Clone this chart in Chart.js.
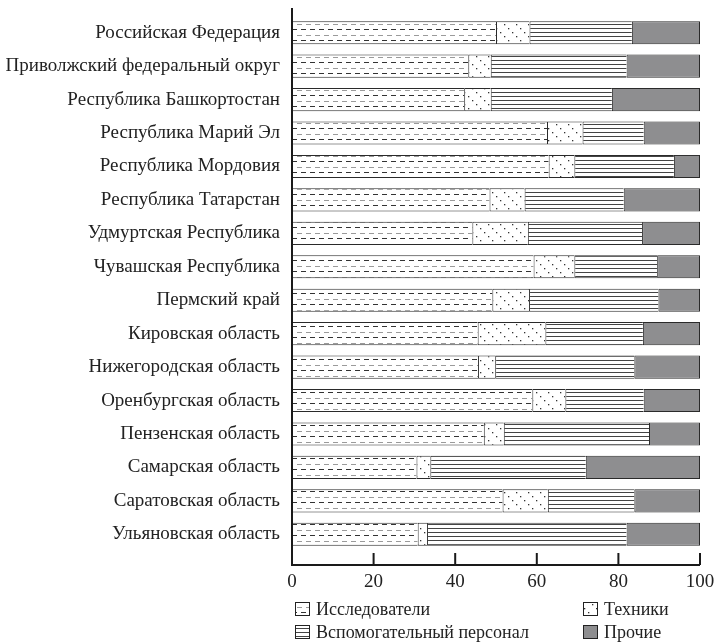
<!DOCTYPE html>
<html lang="ru">
<head>
<meta charset="utf-8">
<title>Структура персонала</title>
<script src="https://cdn.jsdelivr.net/npm/chart.js@4.4.1/dist/chart.umd.min.js"></script>
<style>
html,body{margin:0;padding:0;background:#fff;}
</style>
</head>
<body>
<canvas id="staffChart" width="714" height="642"></canvas>
<script>
const regions = [
"Российская Федерация",
"Приволжский федеральный округ",
"Республика Башкортостан",
"Республика Марий Эл",
"Республика Мордовия",
"Республика Татарстан",
"Удмуртская Республика",
"Чувашская Республика",
"Пермский край",
"Кировская область",
"Нижегородская область",
"Оренбургская область",
"Пензенская область",
"Самарская область",
"Саратовская область",
"Ульяновская область"
];

const researchers = [50.0,43.2,42.2,62.5,62.9,48.4,44.2,59.2,49.1,45.5,45.6,58.9,47.0,30.5,51.6,30.8];
const technicians = [8.2,5.5,6.5,8.7,6.3,8.6,13.6,10.0,9.0,16.6,4.2,8.1,4.9,3.4,11.1,2.3];
const support = [25.1,33.3,29.7,15.0,24.4,24.3,28.0,20.3,31.7,23.9,34.1,19.2,35.6,38.1,21.2,48.9];
const others = [16.7,18.0,21.6,13.8,6.4,18.7,14.2,10.5,10.2,14.0,16.1,13.8,12.5,28.0,16.1,18.0];

const xTicks = [0,20,40,60,80,100];

const FONT = "'Liberation Serif', 'Times New Roman', serif";
const INK = "#222";

// fill patterns
function tile(w, h, draw) {
const cv = document.createElement("canvas");
cv.width = w; cv.height = h;
const g = cv.getContext("2d");
g.fillStyle = "#fff";
g.fillRect(0, 0, w, h);
draw(g);
return cv.getContext("2d").createPattern(cv, "repeat");
}

const dashFill = tile(9, 11, g => {
g.fillStyle = "#9a9a9a";
g.fillRect(0, 2, 5, 1);
g.fillStyle = "#333";
g.fillRect(4, 7, 5, 1);
});

const dotFill = tile(12, 12, g => {
g.fillStyle = "#333";
g.fillRect(0, 0, 1.3, 1.3);
g.fillRect(4, 4, 1.3, 1.3);
g.fillRect(8, 8, 1.3, 1.3);
});

const lineFill = tile(4, 4, g => {
g.fillStyle = "#444";
g.fillRect(0, 0, 4, 1);
});

const edge = {top:1, bottom:1, left:1, right:0};

const axisLines = {
id: "axisLines",
afterDraw(chart) {
const c = chart.ctx, a = chart.chartArea, x = chart.scales.x;
const base = a.bottom + 14;
c.save();
c.strokeStyle = "#1a1a1a";
c.lineWidth = 2;
c.beginPath();
c.moveTo(a.left, a.top - 8);
c.lineTo(a.left, base);
c.lineTo(a.right, base);
x.ticks.forEach(t => {
const px = x.getPixelForValue(t.value);
c.moveTo(px, base);
c.lineTo(px, base - 12);
});
c.stroke();
c.restore();
}
};

const legendGrid = {
id: "legendGrid",
afterDraw(chart) {
const c = chart.ctx, a = chart.chartArea;
const cols = [a.left + 3, a.left + 291];
const rows = [a.bottom + 58, a.bottom + 81];
c.save();
c.font = "18px " + FONT;
c.textBaseline = "middle";
chart.data.datasets.forEach((ds, i) => {
const x = cols[i % 2], y = rows[Math.floor(i / 2)];
c.fillStyle = ds.backgroundColor;
c.fillRect(x, y - 7, 14, 13);
c.strokeStyle = INK;
c.lineWidth = 1;
c.strokeRect(x + 0.5, y - 6.5, 14, 13);
c.fillStyle = INK;
c.fillText(ds.label, x + 21, y + 1);
});
c.restore();
}
};

new Chart(document.getElementById("staffChart"), {
type: "bar",
data: {
labels: regions,
datasets: [
{label: "Исследователи", data: researchers, backgroundColor: dashFill, borderWidth: edge},
{label: "Техники", data: technicians, backgroundColor: dotFill, borderWidth: edge},
{label: "Вспомогательный персонал", data: support, backgroundColor: lineFill, borderWidth: edge},
{label: "Прочие", data: others, backgroundColor: "#8e8e90", borderWidth: 1}
]
},
options: {
indexAxis: "y",
responsive: false,
animation: false,
datasets: {
bar: {
borderColor: "#2a2a2a",
borderSkipped: false,
barPercentage: 0.69,
categoryPercentage: 1
}
},
layout: {
padding: {left: 0, right: 14, top: 16, bottom: 0}
},
plugins: {
legend: {display: false},
tooltip: {enabled: false}
},
scales: {
x: {
stacked: true,
min: 0,
max: 100,
afterBuildTicks: s => { s.ticks = xTicks.map(v => ({value: v})); },
afterFit: s => { s.height = 91; s.paddingLeft = 0; s.paddingRight = 0; },
grid: {display: false, drawTicks: false},
border: {display: false},
ticks: {
padding: 20,
color: INK,
font: {family: FONT, size: 19}
}
},
y: {
stacked: true,
afterFit: s => { s.width = 292; s.paddingTop = 0; s.paddingBottom = 0; },
grid: {display: false, drawTicks: false},
border: {display: false},
ticks: {
padding: 12,
color: INK,
font: {family: FONT, size: 19}
}
}
}
},
plugins: [axisLines, legendGrid]
});
</script>
</body>
</html>
